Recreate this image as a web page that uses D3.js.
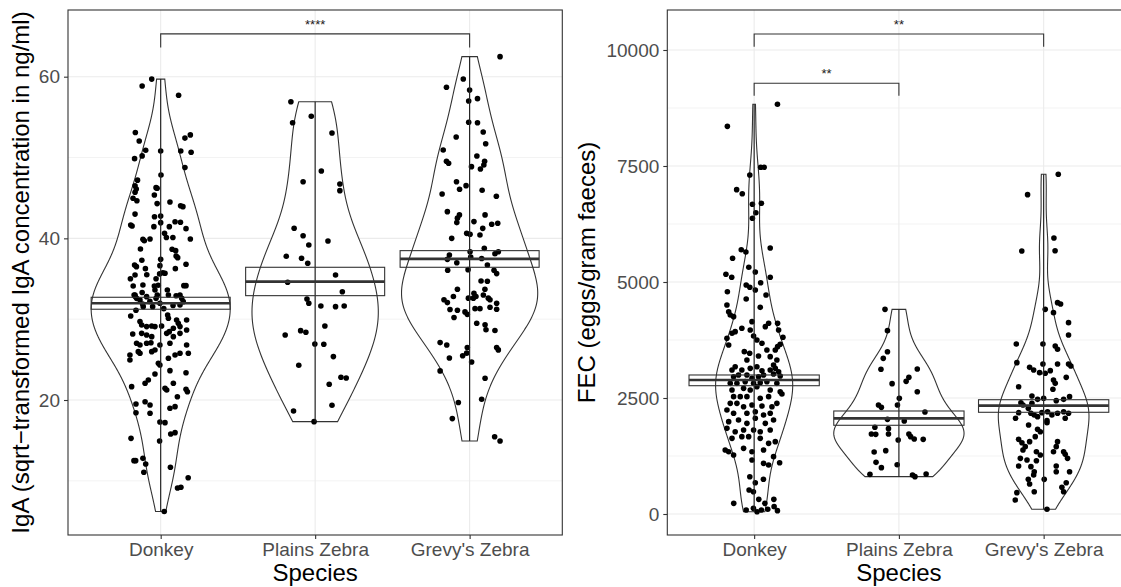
<!DOCTYPE html>
<html>
<head>
<meta charset="utf-8">
<script src="https://cdnjs.cloudflare.com/ajax/libs/d3/7.8.5/d3.min.js"></script>
<style>
    body { margin: 0; background: #ffffff; }
    svg text { font-family: "Liberation Sans", Arial, sans-serif; }
</style>
</head>
<body>
<svg id="chart" width="1121" height="587"></svg>
<script>

var species = ["Donkey", "Plains Zebra", "Grevy's Zebra"];

// [value, horizontal jitter in category units]
var igaDonkey = [
    [59.7, -0.058], [58.85, -0.12], [57.7, 0.116], [53.1, -0.164], [52.8, 0.192], [52.4, 0.157], [52.05, -0.139],
    [50.9, -0.097], [50.8, 0], [50.8, 0.13], [50.65, 0.197], [50.2, -0.12], [49.86, -0.169], [48.75, 0.157],
    [47.84, 0.002], [47.2, -0.15], [46.5, -0.166], [46.27, -0.03], [46.1, -0.158], [45.7, -0.166], [44.96, -0.179],
    [44.66, -0.154], [45.37, -0.041], [46.2, -0.023], [44.5, 0.06], [44.04, 0.129], [43.92, 0.144], [44.3, -0.023],
    [43.0, -0.166], [42.68, -0.04], [42.77, 0], [41.65, -0.194], [41.53, -0.185], [41.45, -0.044], [41.94, 0],
    [41.45, 0.056], [42.06, 0.093], [41.99, 0.128], [41.2, 0.164], [40.63, 0.025], [40.1, 0.037], [40.1, 0.079],
    [39.92, 0.192], [39.92, -0.069], [39.88, -0.115], [39.7, -0.106], [38.69, -0.131], [38.65, 0.074], [38.48, 0.097],
    [37.82, 0.1], [37.61, 0.11], [37.41, 0], [37.29, -0.122], [36.8, 0.164], [36.7, -0.169], [36.5, -0.157],
    [36.62, -0.005], [36.25, -0.099], [36.25, 0.095], [35.75, 0.014], [35.68, 0.028], [35.6, -0.007], [35.5, -0.09],
    [35.47, -0.166], [35.0, -0.196], [35.0, -0.03], [34.1, -0.041], [34.2, -0.016], [34.15, 0.15], [34.15, 0.164],
    [34.1, -0.178], [34.23, -0.115], [33.0, -0.172], [32.8, -0.165],
    [33.0, -0.166], [32.58, -0.156], [32.38, -0.134], [31.88, -0.117], [31.55, -0.113], [33.61, -0.037], [33.0, -0.022],
    [32.58, -0.03], [33.61, 0.043], [33.0, 0.05], [33.0, 0.125], [32.58, 0.136], [32.17, 0.146], [31.76, 0.125],
    [32.79, -0.091], [31.55, -0.052], [31.97, -0.005], [32.2, -0.07], [31.7, 0.08], [31.3, 0.02], [32.9, 0.1],
    [31.1, -0.16], [33.3, -0.12],
    [30.4, -0.194], [29.7, -0.134], [29.28, -0.123], [29.08, -0.091], [29.16, -0.058], [29.08, -0.037], [29.16, 0.006],
    [30.52, 0.045], [30.11, 0.05], [29.9, 0.103], [29.49, 0.114], [29.08, 0.125], [29.9, 0.168], [28.66, 0.168],
    [28.87, 0.082], [28.17, -0.181], [28.25, -0.123], [28.05, -0.091], [27.84, -0.058], [28.25, 0.039], [28.46, 0.056],
    [27.84, 0.082], [28.25, 0.125], [27.02, -0.156], [26.81, -0.134], [27.02, -0.091], [27.09, -0.063], [26.81, -0.005],
    [27.02, 0.06], [25.57, -0.199], [24.95, -0.199], [25.98, -0.145], [25.78, -0.134], [25.98, -0.058], [26.19, -0.037],
    [25.16, 0.05], [25.57, 0.093], [25.78, 0.125], [26.81, 0.168], [25.78, 0.179], [24.54, -0.015], [24.33, -0.005],
    [23.22, -0.037], [23.63, 0.06], [23.38, 0.164], [21.65, -0.188], [22.07, -0.101], [22.48, -0.08], [21.45, 0.028],
    [21.24, 0.039], [22.07, 0.082], [20.41, 0.108], [21.33, 0.164], [21.03, 0.173], [19.51, -0.16], [19.79, -0.101],
    [19.39, -0.069], [18.98, 0.06], [19.18, 0.093], [18.43, -0.16], [18.36, -0.069],
    [17.28, -0.005], [17.2, 0.028], [15.26, -0.192], [14.93, -0.007], [15.8, 0.065], [15.96, 0.093], [12.5, -0.173],
    [12.5, -0.162], [12.78, -0.115], [12.08, -0.097], [11.06, -0.109], [11.68, 0.063], [10.39, 0.178], [9.12, 0.109],
    [9.2, 0.131], [6.2, 0.023]
];

var igaPlains = [
    [56.9, -0.157], [55.1, -0.025], [54.3, -0.146], [53.04, 0.109], [48.34, 0.04], [47.0, -0.078], [46.73, 0.16],
    [45.9, 0.16], [41.25, -0.136], [40.33, -0.078], [39.68, 0.083], [39.18, -0.041], [37.78, -0.187], [37.53, -0.088],
    [36.92, -0.048], [35.47, 0.132], [34.57, -0.178], [33.4, 0.176], [32.5, -0.053], [31.97, -0.041], [31.63, 0.037],
    [31.55, 0.132], [31.63, 0.188], [29.16, 0.063], [28.05, -0.194], [28.58, -0.094], [28.38, -0.06], [26.93, -0.002],
    [26.9, 0.056], [25.37, 0.118], [24.3, -0.106], [22.81, 0.167], [22.73, 0.201], [21.95, 0.091], [19.35, 0.109],
    [18.64, -0.14], [17.32, -0.007]
];

var igaGrevy = [
    [62.48, 0.197], [59.72, -0.041], [58.69, -0.15], [58.36, 0], [57.28, 0.051], [57.0, -0.006], [54.36, -0.006],
    [54.31, 0.051], [53.16, 0.088], [52.54, -0.087], [51.71, 0.104], [50.93, -0.171], [50.19, 0.047], [49.53, -0.15],
    [49.29, -0.136], [49.53, 0.097], [49.08, 0.092], [48.87, 0.012], [48.58, 0.07], [47.0, -0.085], [46.52, -0.023],
    [46.07, -0.065], [45.95, 0.081], [45.49, -0.178], [45.2, 0.173],
    [43.3, -0.144], [42.9, -0.066], [42.5, -0.079], [41.95, -0.083], [42.07, 0.028], [42.9, 0.1], [41.24, 0.085],
    [41.74, 0.143], [41.86, 0.182], [40.62, -0.019], [40.5, 0.003], [40.42, 0.067], [40.0, -0.116], [38.76, 0.095],
    [38.34, 0.003], [37.93, -0.131], [38.1, 0.164], [38.34, 0.186], [37.4, -0.144], [37.7, 0.007], [37.5, 0.078],
    [36.99, -0.083], [36.7, 0.115], [36.05, -0.142], [36.13, -0.01], [36.05, 0.158], [35.64, 0.175], [34.72, 0.074],
    [34.7, 0.115], [33.7, -0.079], [33.7, 0.099], [33.2, 0.028], [33.0, 0.089], [32.8, -0.105], [32.6, -0.008],
    [32.6, 0.121], [32.4, 0.132], [32.4, -0.166], [32.05, -0.144], [32.6, 0.024], [32.8, 0.041], [31.97, 0.175],
    [31.22, 0.175], [31.47, 0.132], [31.2, -0.127], [31.1, -0.079], [31.3, 0.035], [31.3, 0.067], [30.9, -0.03],
    [30.6, -0.015], [30.2, -0.101], [29.5, 0.046], [29.3, 0.1], [28.7, 0.106], [28.6, 0.164], [27.1, -0.191],
    [26.8, -0.148], [26.5, -0.015], [25.47, -0.045], [25.8, -0.019], [25.2, -0.131], [24.7, 0.013], [26.5, 0.175],
    [26.2, 0.186], [23.6, -0.191], [22.7, 0.1], [19.7, -0.073], [20.1, 0.078], [17.7, -0.112], [15.46, 0.162],
    [14.93, 0.197]
];

var fecDonkey = [
    [8830, 0.161], [8355, -0.185], [7472, 0.045], [7472, 0.069], [7306, -0.03], [6990, -0.121], [6903, -0.082],
    [6674, -0.012], [6696, 0.05], [6494, 0.012], [6373, -0.012], [5696, -0.089], [5647, -0.057], [5733, 0.111],
    [5511, -0.149], [5317, -0.037], [5216, 0.008], [5166, -0.195], [5101, -0.155], [5101, 0.111], [4985, 0.045],
    [4935, -0.055], [4886, -0.03], [4828, 0.008], [4791, -0.185], [4720, 0.082], [4634, -0.055],
    [4504, -0.188], [4360, -0.176], [4289, -0.165], [4253, -0.142], [4454, 0.042], [4145, -0.015], [3966, -0.027],
    [4002, -0.085], [3930, -0.131], [3894, -0.153], [3786, -0.188], [3642, -0.176], [4110, 0.1], [4038, 0.077],
    [4110, 0.162], [3966, 0.169], [3808, 0.199], [3607, 0.162], [3535, 0.146], [3657, 0.18], [3837, -0.004],
    [3750, 0.019], [3679, 0.054], [3535, 0.088], [3499, -0.068], [3463, -0.031], [3319, -0.05], [3405, 0.03],
    [3391, 0.111], [3319, 0.157], [3211, 0.134],
    [3175, -0.131], [3103, -0.153], [3103, -0.085], [3139, -0.027], [3175, 0.019], [3088, 0.054], [3103, 0.111],
    [3139, 0.146], [3067, 0.169], [2959, -0.142], [2995, -0.108], [2995, -0.05], [2923, -0.015], [2959, 0.03],
    [2995, 0.065], [3017, 0.134], [2974, 0.18], [2816, -0.165], [2816, -0.119], [2852, -0.062], [2816, -0.004],
    [2830, 0.042], [2852, 0.088], [2816, 0.157], [2672, -0.153], [2708, -0.073], [2672, -0.027], [2744, 0.019],
    [2672, 0.111], [2636, 0.18], [2586, 0.192], [2529, -0.142], [2529, -0.096], [2529, -0.05], [2493, 0.042],
    [2529, 0.1], [2385, 0.157], [2385, -0.165], [2385, -0.119], [2313, -0.073], [2349, -0.015], [2328, 0.054],
    [2313, 0.123], [2241, -0.188], [2170, -0.142], [2170, -0.05], [2205, 0.008], [2134, 0.065], [2170, 0.111],
    [1990, -0.176], [2026, -0.108], [1954, -0.05], [2062, 0.008], [1954, 0.077], [2026, 0.134], [1846, -0.188],
    [1774, -0.131], [1810, -0.073], [1810, -0.004], [1774, 0.042], [1810, 0.111], [1630, -0.153], [1667, -0.085],
    [1667, -0.038], [1630, 0.042], [1523, 0.1], [1559, 0.146], [1379, -0.2], [1343, -0.176], [1272, -0.142],
    [1415, -0.073], [1343, -0.015], [1379, 0.065], [1236, 0.134], [1106, 0.176], [1092, 0.065], [1056, 0.1],
    [1164, -0.015],
    [804, -0.03], [675, 0.008], [748, 0.064], [517, -0.035], [481, -0.005], [230, -0.141], [316, 0.032], [230, 0.074],
    [316, 0.136], [86, -0.055], [122, -0.005], [86, 0.05], [101, 0.094], [72, 0.161], [158, 0.138], [50, 0.02]
];

var fecPlains = [
    [4411, -0.096], [3951, -0.079], [3498, -0.079], [3355, -0.108], [3118, -0.124], [3125, 0.127], [2945, 0.069],
    [2859, 0.05], [2809, -0.047], [2636, 0.127], [2493, 0.003], [2349, -0.01], [2349, -0.141], [2299, -0.121],
    [2198, 0.18], [2040, -0.079], [2004, 0.037], [1868, -0.166], [1717, -0.16], [1724, -0.19], [1839, -0.072],
    [1724, -0.072], [1724, 0.069], [1667, 0.081], [1616, 0.106], [1609, 0.168], [1595, -0.005], [1336, -0.171],
    [1365, -0.091], [1113, -0.158], [999, -0.121], [1063, -0.012], [855, -0.2], [841, 0.094], [805, 0.111],
    [862, 0.188]
];

var fecGrevy = [
    [7321, 0.101], [6882, -0.111], [5948, 0.071], [5668, -0.151], [5675, 0.079],
    [4555, 0.096], [4526, 0.117], [4411, 0.011], [4339, 0.068], [4124, 0.172], [3858, 0.172], [3664, -0.189],
    [3664, -0.005], [3621, 0.08], [3549, 0.096], [3262, -0.185], [3161, -0.097], [3103, -0.069], [3233, -0.005],
    [3046, -0.028], [3032, 0.011], [3089, 0.046], [3233, 0.096], [3233, 0.172], [3190, 0.188], [2945, 0.156],
    [2888, 0.068], [2816, 0.08], [2687, 0.064], [2744, -0.173], [2543, -0.081], [2471, -0.042], [2385, -0.081],
    [2399, -0.157], [2349, -0.143], [2493, 0], [2443, 0.087], [2471, 0.138], [2529, 0.179], [2277, -0.106],
    [2170, -0.088], [2134, -0.065], [2098, -0.042], [2184, -0.012], [2205, 0.027], [2134, 0.057], [2170, 0.096],
    [2062, -0.194], [2184, -0.173], [2205, 0.138], [2170, 0.172], [2062, 0.149], [1968, 0.023], [2012, 0.023],
    [1918, -0.104], [1825, -0.042], [1774, -0.023], [1667, -0.058], [1609, -0.173], [1537, -0.15], [1451, -0.127],
    [1379, -0.143], [1559, -0.097], [1559, 0.096], [1451, 0.087], [1343, 0.068], [1343, 0.138], [1286, 0.149],
    [1199, 0.165], [1343, -0.05], [1272, -0.023], [1199, -0.161], [1164, -0.115], [1034, -0.173], [1149, -0.05],
    [1020, -0.088], [912, -0.065], [841, -0.069], [1034, 0.087], [912, 0.087], [912, 0.179], [747, 0.004],
    [747, -0.106], [647, -0.097], [675, 0.156], [575, 0.126], [481, 0.138], [481, -0.065], [460, -0.185],
    [302, -0.196], [101, 0.023]
];

// crossbars: mean with lower / upper edge
var igaMean = [31.97, 34.64, 37.45];
var igaLow = [31.23, 32.91, 36.42];
var igaHigh = [32.71, 36.42, 38.48];
var fecMean = [2888, 2062, 2334];
var fecLow = [2765, 1912, 2192];
var fecHigh = [2996, 2220, 2463];

var igaTicks = [20, 40, 60];
var igaMinor = [10, 30, 50];
var fecTicks = [0, 2500, 5000, 7500, 10000];
var fecMinor = [1250, 3750, 6250, 8750];

// significance brackets: from, to, bar height, tip end, label
var igaSig = [["Donkey", "Grevy's Zebra", 65.3, 63.6, "****"]];
var fecSig = [["Donkey", "Grevy's Zebra", 10345, 10071, "**"], ["Donkey", "Plains Zebra", 9282, 9015, "**"]];


var svg = d3.select("#chart");
var TOP = 10, BOTTOM = 535;

// gaussian kernel density, bw.nrd0, evaluated over the data range (trimmed)
function density(values) {
    var v = values.slice().sort(d3.ascending);
    var n = v.length;
    var iqr = d3.quantileSorted(v, 0.75) - d3.quantileSorted(v, 0.25);
    var bw = 0.9 * Math.min(d3.deviation(v), iqr / 1.34) * Math.pow(n, -0.2);
    var lo = v[0], hi = v[n - 1];
    var out = [];
    for (var i = 0; i < 512; i++) {
        var y = lo + (hi - lo) * i / 511;
        var s = 0;
        for (var j = 0; j < n; j++) {
            var z = (y - v[j]) / bw;
            s += Math.exp(-0.5 * z * z);
        }
        out.push([y, s / (n * bw * Math.sqrt(2 * Math.PI))]);
    }
    return out;
}

function drawPanel(p) {
    var x = d3.scaleLinear().domain([0.4, 3.6]).range([p.left, p.right]);
    var y = d3.scaleLinear().domain(p.yDomain).range([BOTTOM, TOP]);
    var pos = function (name) { return species.indexOf(name) + 1; };

    var g = svg.append("g");
    g.append("clipPath").attr("id", "clip" + p.id).append("rect")
        .attr("x", p.left).attr("y", TOP).attr("width", p.right - p.left).attr("height", BOTTOM - TOP);
    var inner = g.append("g").attr("clip-path", "url(#clip" + p.id + ")");

    // grid
    inner.selectAll(".minor").data(p.minor).enter().append("line")
        .attr("x1", p.left).attr("x2", p.right)
        .attr("y1", function (d) { return y(d); }).attr("y2", function (d) { return y(d); })
        .attr("stroke", "#ebebeb").attr("stroke-width", 0.6);
    inner.selectAll(".major").data(p.ticks).enter().append("line")
        .attr("x1", p.left).attr("x2", p.right)
        .attr("y1", function (d) { return y(d); }).attr("y2", function (d) { return y(d); })
        .attr("stroke", "#ebebeb").attr("stroke-width", 1.1);
    inner.selectAll(".vmajor").data(species).enter().append("line")
        .attr("x1", function (d, i) { return x(i + 1); }).attr("x2", function (d, i) { return x(i + 1); })
        .attr("y1", TOP).attr("y2", BOTTOM)
        .attr("stroke", "#ebebeb").attr("stroke-width", 1.1);

    // violins (scale = "area": one common maximum)
    var dens = p.groups.map(function (grp) { return density(grp.map(function (d) { return d[0]; })); });
    var maxD = d3.max(dens, function (d) { return d3.max(d, function (e) { return e[1]; }); });
    var line = d3.line().x(function (d) { return d[0]; }).y(function (d) { return d[1]; });
    dens.forEach(function (d, i) {
        var c = i + 1;
        var right = d.map(function (e) { return [x(c + 0.45 * e[1] / maxD), y(e[0])]; });
        var left = d.map(function (e) { return [x(c - 0.45 * e[1] / maxD), y(e[0])]; }).reverse();
        inner.append("path").attr("d", line(right.concat(left)) + "Z")
            .attr("fill", "#ffffff").attr("stroke", "#333333").attr("stroke-width", 1.1);
    });

    // points
    p.groups.forEach(function (grp, i) {
        inner.selectAll(null).data(grp).enter().append("circle")
            .attr("cx", function (d) { return x(i + 1 + d[1]); })
            .attr("cy", function (d) { return y(d[0]); })
            .attr("r", 2.8).attr("fill", "#000000");
    });

    // range line
    p.groups.forEach(function (grp, i) {
        var ext = d3.extent(grp, function (d) { return d[0]; });
        inner.append("line")
            .attr("x1", x(i + 1)).attr("x2", x(i + 1))
            .attr("y1", y(ext[0])).attr("y2", y(ext[1]))
            .attr("stroke", "#222222").attr("stroke-width", 1.2);
    });

    // crossbars
    species.forEach(function (s, i) {
        inner.append("rect")
            .attr("x", x(i + 1 - 0.45)).attr("width", x(i + 1.45) - x(i + 0.55))
            .attr("y", y(p.high[i])).attr("height", y(p.low[i]) - y(p.high[i]))
            .attr("fill", "none").attr("stroke", "#333333").attr("stroke-width", 1.1);
        inner.append("line")
            .attr("x1", x(i + 1 - 0.45)).attr("x2", x(i + 1.45))
            .attr("y1", y(p.mean[i])).attr("y2", y(p.mean[i]))
            .attr("stroke", "#333333").attr("stroke-width", 2.7);
    });

    // significance brackets
    p.sig.forEach(function (s) {
        var x1 = x(pos(s[0])), x2 = x(pos(s[1]));
        g.append("path")
            .attr("d", "M" + x1 + "," + y(s[3]) + "V" + y(s[2]) + "H" + x2 + "V" + y(s[3]))
            .attr("fill", "none").attr("stroke", "#333333").attr("stroke-width", 1.1);
        g.append("text").attr("x", (x1 + x2) / 2).attr("y", y(s[2]) - 5)
            .attr("text-anchor", "middle").attr("font-size", 13).attr("fill", "#1a1a1a")
            .text(s[4]);
    });

    // border
    g.append("rect").attr("x", p.left).attr("y", TOP)
        .attr("width", p.right - p.left).attr("height", BOTTOM - TOP)
        .attr("fill", "none").attr("stroke", "#333333").attr("stroke-width", 1.1);

    // axes
    var yAxis = g.append("g").attr("transform", "translate(" + p.left + ",0)")
        .call(d3.axisLeft(y).tickValues(p.ticks).tickSize(4).tickPadding(4).tickFormat(d3.format("d")));
    var xAxis = g.append("g").attr("transform", "translate(0," + BOTTOM + ")")
        .call(d3.axisBottom(x).tickValues([1, 2, 3]).tickSize(4).tickPadding(4)
            .tickFormat(function (d) { return species[d - 1]; }));
    [yAxis, xAxis].forEach(function (a) {
        a.select(".domain").remove();
        a.selectAll(".tick line").attr("stroke", "#333333").attr("stroke-width", 1.1);
        a.selectAll(".tick text").attr("fill", "#4d4d4d").attr("font-size", 19)
            .attr("font-family", "Liberation Sans, Arial, sans-serif");
    });

    // titles
    g.append("text").attr("x", (p.left + p.right) / 2).attr("y", 581)
        .attr("text-anchor", "middle").attr("font-size", 24).attr("fill", "#000000")
        .text("Species");
    g.append("text")
        .attr("transform", "translate(" + p.titleX + "," + (TOP + BOTTOM) / 2 + ") rotate(-90)")
        .attr("text-anchor", "middle").attr("font-size", 24).attr("fill", "#000000")
        .text(p.title);
}

drawPanel({
    id: "a", left: 68, right: 562.3, yDomain: [3.3, 68.25],
    groups: [igaDonkey, igaPlains, igaGrevy],
    mean: igaMean, low: igaLow, high: igaHigh,
    ticks: igaTicks, minor: igaMinor, sig: igaSig,
    title: "IgA (sqrt\u2212transformed IgA concentration in ng/ml)", titleX: 29
});

drawPanel({
    id: "b", left: 667.3, right: 1130.5, yDomain: [-452.6, 10862],
    groups: [fecDonkey, fecPlains, fecGrevy],
    mean: fecMean, low: fecLow, high: fecHigh,
    ticks: fecTicks, minor: fecMinor, sig: fecSig,
    title: "FEC (eggs/gram faeces)", titleX: 595
});

</script>
</body>
</html>
